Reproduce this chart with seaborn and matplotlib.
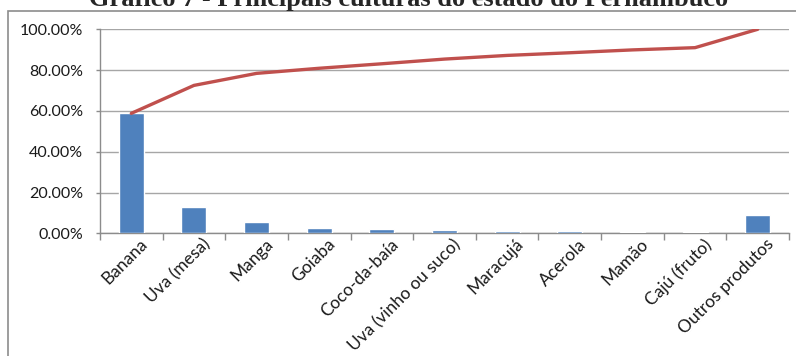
import matplotlib
matplotlib.use("Agg")
import matplotlib.pyplot as plt
import matplotlib.patches as mpatches
import matplotlib.transforms as mtransforms
from matplotlib.ticker import PercentFormatter, FixedLocator
import seaborn as sns
import pandas as pd
import numpy as np

# Principais culturas do estado de Pernambuco
culturas = ["Banana", "Uva (mesa)", "Manga", "Goiaba", "Coco-da-baía",
            "Uva (vinho ou suco)", "Maracujá", "Acerola", "Mamão",
            "Cajú (fruto)", "Outros produtos"]
participacao = [58.8, 13.0, 5.5, 2.45, 2.0, 1.6, 1.1, 1.1, 0.8, 0.8, 9.1]
acumulado = [58.8, 72.5, 78.4, 80.9, 83.1, 85.4, 87.2, 88.5, 89.9, 91.0, 100.0]
titulo = "Gráfico 7 - Principais culturas do estado do Pernambuco"

sns.set_theme(style="white")
plt.rcParams["font.family"] = ["Lato", "DejaVu Sans"]

df = pd.DataFrame({"cultura": culturas, "participacao": participacao,
                   "acumulado": acumulado, "pos": np.arange(len(culturas))})

W, H = 796, 356
fig = plt.figure(figsize=(W / 100, H / 100), dpi=100)
ax = fig.add_axes([100 / W, 1 - 233.3 / H, 689 / W, 204 / H])

sns.barplot(data=df, x="cultura", y="participacao", color="#4F81BD",
            width=0.4, saturation=1, ax=ax, zorder=3)
sns.lineplot(data=df, x="pos", y="acumulado", color="#C0504D",
             linewidth=2.4, ax=ax, zorder=4)

ax.set_xlim(-0.5, len(culturas) - 0.5)
ax.set_ylim(0, 100)
ax.set_xlabel("")
ax.set_ylabel("")

ax.yaxis.set_major_locator(FixedLocator([0, 20, 40, 60, 80, 100]))
ax.yaxis.set_major_formatter(PercentFormatter(100, decimals=2))
ax.grid(axis="y", color="#a6a6a6", linewidth=1.0, zorder=0)
ax.set_axisbelow(True)

for side in ["top", "right"]:
    ax.spines[side].set_visible(False)
for side in ["left", "bottom"]:
    ax.spines[side].set_color("#8c8c8c")
    ax.spines[side].set_linewidth(1.0)

ax.tick_params(axis="y", left=True, length=3, width=1, color="#8c8c8c",
               pad=9, labelsize=11.5, labelcolor="#1a1a1a")
ax.set_xticks(np.arange(len(culturas)))
ax.set_xticklabels(culturas, rotation=45, ha="right",
                   rotation_mode="anchor", fontsize=12.5, color="#1a1a1a")
ax.tick_params(axis="x", which="major", bottom=False, length=0, pad=2)
ax.set_xticks(np.arange(-0.5, len(culturas)), minor=True)
ax.tick_params(axis="x", which="minor", bottom=True, length=5, width=1,
               color="#8c8c8c")

# nudge the rotated category labels to the right
shift = mtransforms.ScaledTranslation(8 / 100, 0, fig.dpi_scale_trans)
for lbl in ax.get_xticklabels():
    lbl.set_transform(lbl.get_transform() + shift)

# chart area frame
fig.patches.append(mpatches.Rectangle((8 / W, -0.1), 1.2, 1 - 10.7 / H + 0.1,
                                      transform=fig.transFigure, fill=False,
                                      edgecolor="#8c8c8c", linewidth=1.2))

fig.text(409 / W, 1 - 6 / H, titulo, ha="center", va="baseline",
         fontsize=19, fontweight="bold", family="Liberation Serif")

fig.savefig("out.png", dpi=100)
